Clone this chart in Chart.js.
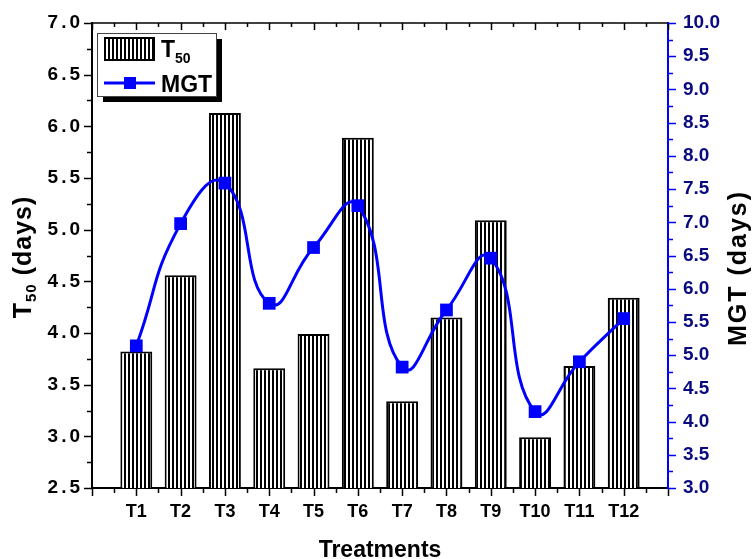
<!DOCTYPE html>
<html>
<head>
<meta charset="utf-8">
<script src="https://cdn.jsdelivr.net/npm/chart.js@4/dist/chart.umd.min.js"></script>
<style>
  html, body { margin: 0; padding: 0; background: #ffffff; }
  #wrap { width: 752px; height: 559px; }
</style>
</head>
<body>
<div id="wrap"><canvas id="c" width="752" height="559"></canvas></div>
<script>
// ---- data ----
const categories = ['T1','T2','T3','T4','T5','T6','T7','T8','T9','T10','T11','T12'];
const t50Values = [3.82, 4.56, 6.13, 3.66, 3.99, 5.89, 3.34, 4.15, 5.09, 2.99, 3.68, 4.34];
const mgtValues = [5.14, 6.98, 7.59, 5.78, 6.62, 7.25, 4.82, 5.68, 6.46, 4.15, 4.90, 5.55];
const leftTicks = { min: 2.5, max: 7.0, step: 0.5 };
const rightTicks = { min: 3.0, max: 10.0, step: 0.5 };

const FONT = "'Liberation Sans', Arial, sans-serif";
const BLUE = '#0000ff';
const NAVY = '#0a0a80';

// vertical stripe pattern for bars
function stripePattern() {
  const p = document.createElement('canvas');
  p.width = 4; p.height = 4;
  const g = p.getContext('2d');
  g.fillStyle = '#ffffff'; g.fillRect(0, 0, 4, 4);
  g.fillStyle = '#000000'; g.fillRect(0, 0, 2, 4);
  return g.canvas;
}
const ctx0 = document.getElementById('c').getContext('2d');
const pattern = ctx0.createPattern(stripePattern(), 'repeat');

const barData = t50Values.map((v, i) => ({ x: i + 1, y: v }));
const lineData = mgtValues.map((v, i) => ({ x: i + 1, y: v }));

// widen letter spacing of a scale's labels
function spacedLabels(spacing) {
  return function (s) {
    if (s._spaced) return;
    s._spaced = true;
    const orig = s.drawLabels.bind(s);
    s.drawLabels = function (area) {
      s.ctx.save();
      s.ctx.letterSpacing = spacing;
      orig(area);
      s.ctx.restore();
    };
  };
}

const decorPlugin = {
  id: 'decor',
  afterDraw(chart) {
    const { ctx, chartArea: a, scales } = chart;
    const x = scales.x, y = scales.y, y1 = scales.y1;
    ctx.save();
    // top frame line
    ctx.strokeStyle = '#000'; ctx.lineWidth = 1.5;
    ctx.beginPath(); ctx.moveTo(a.left, a.top); ctx.lineTo(a.right, a.top); ctx.stroke();
    // x ticks (bottom outward, top inward)
    for (let v = 0; v <= 13.001; v += 0.5) {
      const px = Math.round(x.getPixelForValue(v)) + 0.5;
      const major = Math.abs(v - Math.round(v)) < 1e-6;
      ctx.beginPath();
      ctx.moveTo(px, a.bottom); ctx.lineTo(px, a.bottom + (major ? 8 : 5));
      ctx.moveTo(px, a.top); ctx.lineTo(px, a.top + (major ? 7 : 4));
      ctx.stroke();
    }
    // left ticks
    for (let v = leftTicks.min; v <= leftTicks.max + 1e-6; v += 0.25) {
      const py = Math.round(y.getPixelForValue(v)) + 0.5;
      const major = Math.abs(v / 0.5 - Math.round(v / 0.5)) < 1e-6;
      ctx.beginPath(); ctx.moveTo(a.left, py); ctx.lineTo(a.left - (major ? 8 : 5), py); ctx.stroke();
    }
    // right ticks
    ctx.strokeStyle = BLUE;
    for (let v = rightTicks.min; v <= rightTicks.max + 1e-6; v += 0.25) {
      const py = Math.round(y1.getPixelForValue(v)) + 0.5;
      const major = Math.abs(v / 0.5 - Math.round(v / 0.5)) < 1e-6;
      ctx.beginPath(); ctx.moveTo(a.right, py); ctx.lineTo(a.right + (major ? 8 : 5), py); ctx.stroke();
    }

    // axis titles
    ctx.fillStyle = '#000';
    ctx.textBaseline = 'alphabetic';
    const big = 'bold 25px ' + FONT, small = 'bold 15px ' + FONT;
    // left title: T50 (days)
    ctx.save();
    ctx.letterSpacing = '1px';
    ctx.translate(31, 257);
    ctx.rotate(-Math.PI / 2);
    ctx.font = big; const wT = ctx.measureText('T').width;
    const wRest = ctx.measureText(' (days)').width;
    ctx.font = small; const wSub = ctx.measureText('50').width;
    let sx = -(wT + wSub + wRest) / 2;
    ctx.font = big; ctx.textAlign = 'left'; ctx.fillText('T', sx, 0);
    ctx.font = small; ctx.fillText('50', sx + wT, 5);
    ctx.font = big; ctx.fillText(' (days)', sx + wT + wSub, 0);
    ctx.restore();
    // right title
    ctx.save();
    ctx.letterSpacing = '2px';
    ctx.translate(746, 268);
    ctx.rotate(-Math.PI / 2);
    ctx.font = big; ctx.textAlign = 'center';
    ctx.fillText('MGT (days)', 0, 0);
    ctx.restore();
    // bottom title
    ctx.font = 'bold 23px ' + FONT; ctx.textAlign = 'center';
    ctx.fillText('Treatments', (a.left + a.right) / 2, 557);

    // legend
    const bx = 97, by = 33, bw = 119, bh = 63;
    ctx.fillStyle = '#000'; ctx.fillRect(bx + 6, by + 6, bw, bh);
    ctx.fillStyle = '#fff'; ctx.fillRect(bx, by, bw, bh);
    ctx.strokeStyle = '#444'; ctx.lineWidth = 1;
    ctx.strokeRect(bx + 0.5, by + 0.5, bw, bh);
    // bar swatch
    ctx.fillStyle = pattern; ctx.fillRect(104, 37, 51, 24);
    ctx.strokeStyle = '#000'; ctx.lineWidth = 2; ctx.strokeRect(105, 38, 49, 22);
    ctx.fillStyle = '#000'; ctx.textAlign = 'left';
    ctx.font = 'bold 23px ' + FONT; ctx.fillText('T', 161, 57);
    const wt = ctx.measureText('T').width;
    ctx.font = 'bold 14px ' + FONT; ctx.fillText('50', 161 + wt, 63);
    // line swatch
    ctx.strokeStyle = BLUE; ctx.lineWidth = 3;
    ctx.beginPath(); ctx.moveTo(104, 83); ctx.lineTo(155, 83); ctx.stroke();
    ctx.fillStyle = BLUE; ctx.fillRect(124, 77, 12, 12);
    ctx.fillStyle = '#000'; ctx.font = 'bold 23px ' + FONT;
    ctx.fillText('MGT', 161, 92);
    ctx.restore();
  }
};

new Chart(document.getElementById('c'), {
  type: 'bar',
  data: {
    datasets: [
      {
        type: 'line', label: 'MGT', data: lineData, yAxisID: 'y1', xAxisID: 'x',
        borderColor: BLUE, backgroundColor: BLUE, borderWidth: 3,
        tension: 0.5, pointStyle: 'rect', pointRadius: 9, pointHoverRadius: 9,
        pointBorderWidth: 0, pointBackgroundColor: BLUE, order: 0, fill: false
      },
      {
        type: 'bar', label: 'T50', data: barData, yAxisID: 'y', xAxisID: 'x',
        backgroundColor: pattern, borderColor: '#000', borderWidth: 2,
        barPercentage: 0.72, categoryPercentage: 1.0, order: 1, borderSkipped: 'bottom'
      }
    ]
  },
  options: {
    responsive: false,
    animation: false,
    layout: { padding: { top: 23, left: 0, right: 0, bottom: 0 } },
    plugins: { legend: { display: false }, tooltip: { enabled: false } },
    scales: {
      x: {
        type: 'linear', min: 0, max: 13, offset: false,
        afterFit(s) { s.height = 71; },
        grid: { offset: false, drawOnChartArea: false, drawTicks: true, tickLength: 8, tickColor: 'rgba(0,0,0,0)' },
        border: { display: true, color: '#000', width: 2 },
        ticks: {
          stepSize: 1, autoSkip: false, maxRotation: 0, padding: 5, color: '#000',
          font: { family: FONT, size: 18, weight: 'bold' },
          callback: (v) => categories[v - 1] || ''
        }
      },
      y: {
        position: 'left', min: leftTicks.min, max: leftTicks.max,
        afterFit(s) { s.width = 92; },
        afterUpdate: spacedLabels('3px'),
        grid: { drawOnChartArea: false, drawTicks: true, tickLength: 8, tickColor: 'rgba(0,0,0,0)' },
        border: { display: true, color: '#000', width: 2 },
        ticks: {
          stepSize: leftTicks.step, padding: 1, color: '#000',
          font: { family: FONT, size: 19, weight: 'bold' },
          callback: (v) => Number(v).toFixed(1)
        }
      },
      y1: {
        position: 'right', min: rightTicks.min, max: rightTicks.max,
        afterFit(s) { s.width = 84; },
        grid: { drawOnChartArea: false, drawTicks: true, tickLength: 8, tickColor: 'rgba(0,0,0,0)' },
        border: { display: true, color: BLUE, width: 2 },
        ticks: {
          stepSize: rightTicks.step, padding: 7, color: NAVY,
          font: { family: FONT, size: 19, weight: 'bold' },
          callback: (v) => Number(v).toFixed(1)
        }
      }
    }
  },
  plugins: [decorPlugin]
});
</script>
</body>
</html>
